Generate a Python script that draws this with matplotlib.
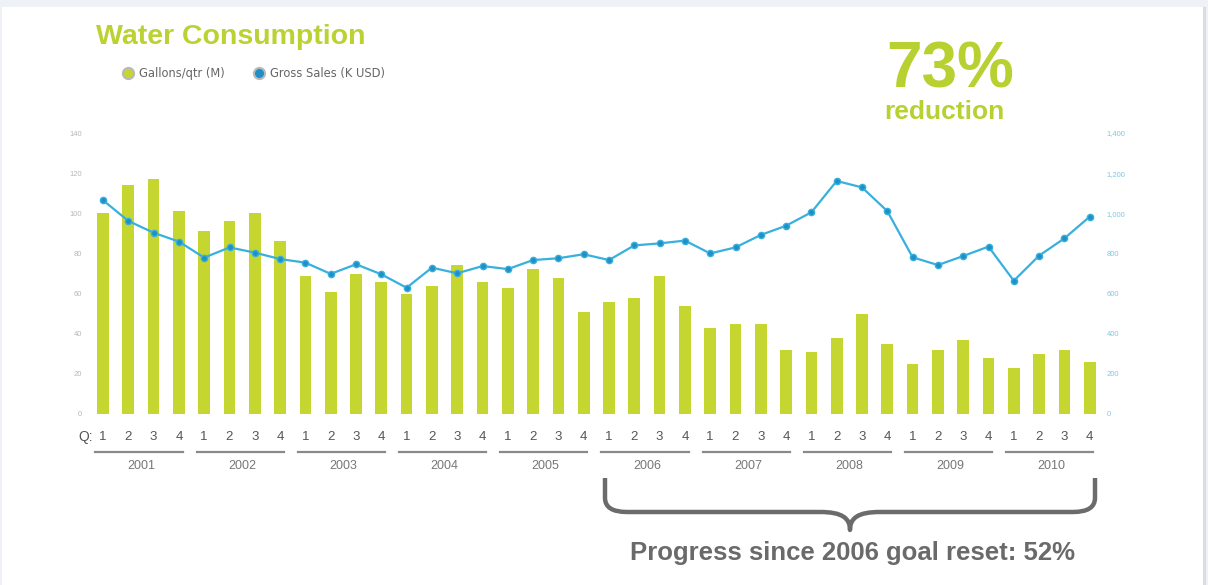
import numpy as np
import matplotlib.pyplot as plt
from matplotlib.patches import Rectangle, PathPatch
from matplotlib.path import Path
import matplotlib.transforms as mtransforms

# data, one value per quarter 2001 Q1 .. 2010 Q4
years = ['2001', '2002', '2003', '2004', '2005', '2006', '2007', '2008', '2009', '2010']
quarters = ['1', '2', '3', '4']
gallons = [100, 114, 117, 101,
           91, 96, 100, 86,
           69, 61, 70, 66,
           60, 64, 74, 66,
           63, 72, 68, 51,
           56, 58, 69, 54,
           43, 45, 45, 32,
           31, 38, 50, 35,
           25, 32, 37, 28,
           23, 30, 32, 26]
sales = [1065, 962, 903, 859,
         779, 830, 804, 772,
         754, 698, 746, 696,
         629, 729, 701, 737,
         722, 767, 776, 796,
         767, 840, 850, 864,
         800, 830, 892, 938,
         1005, 1161, 1129, 1011,
         781, 742, 787, 834,
         664, 789, 875, 983]
left_ticks = [0, 20, 40, 60, 80, 100, 120, 140]
right_ticks = [0, 200, 400, 600, 800, 1000, 1200, 1400]

GREEN = '#c5d631'
BLUE = '#38b0de'
DOT = '#1f8fc6'

W, H = 1208, 585
plt.rcParams['font.family'] = ['Liberation Sans', 'DejaVu Sans']

fig = plt.figure(figsize=(W / 100, H / 100), dpi=100, facecolor='#eef1f6')


def px(x, y):
    """pixel (from top-left) to figure fraction"""
    return x / W, 1 - y / H


# white card with a soft shadow on the right (kept behind the axes)
fig.patches.append(Rectangle(px(6, 585), 1200 / W, 578 / H, transform=fig.transFigure,
                             facecolor='#d9dce0', edgecolor='none', zorder=-10))
fig.patches.append(Rectangle(px(2, 585), 1201 / W, 578 / H, transform=fig.transFigure,
                             facecolor='white', edgecolor='none', zorder=-9))

x = np.arange(len(gallons))
x0, x1 = -0.6, 39.5
l, b = px(103 + x0 * 25.3, 414)
r, t = px(103 + x1 * 25.3, 133)
ax = fig.add_axes([l, b, r - l, t - b])
ax.set_facecolor('none')
ax.bar(x, gallons, width=0.46, color=GREEN, zorder=2)
ax.set_xlim(x0, x1)
ax.set_ylim(0, 140)
ax.set_yticks(left_ticks)
ax.set_yticklabels([str(v) for v in left_ticks])
ax.tick_params(axis='y', length=0, labelsize=5.5, labelcolor='#b8b8b8', pad=4)
ax.set_xticks(x)
ax.set_xticklabels(quarters * len(years))
ax.tick_params(axis='x', length=0, labelsize=9.5, labelcolor='#555555', pad=12)
for s in ax.spines.values():
    s.set_visible(False)

ax2 = ax.twinx()
ax2.plot(x, sales, color=BLUE, lw=1.6, marker='o', ms=4.5, mfc=DOT, mec=BLUE, mew=1, zorder=3)
ax2.set_ylim(0, 1400)
ax2.set_yticks(right_ticks)
ax2.set_yticklabels([f'{v:,}' for v in right_ticks])
ax2.tick_params(axis='y', length=0, labelsize=5.5, labelcolor='#7fc8e4', pad=3)
for s in ax2.spines.values():
    s.set_visible(False)

# "Q:" label and year groups below the quarters
fig.text(*px(86, 437), 'Q:', fontsize=10, color='#555555', ha='center', va='center')
trans = mtransforms.blended_transform_factory(ax.transData, fig.transFigure)
for i, yr in enumerate(years):
    xs = i * 4
    ax.plot([xs - 0.3, xs + 3.15], [px(0, 452)[1]] * 2, color='#8a8a8a', lw=1.6,
            transform=trans, clip_on=False)
    ax.text(xs + 1.5, px(0, 466)[1], yr, transform=trans, fontsize=9, color='#777777',
            ha='center', va='center')

# titles
fig.text(*px(96, 37), 'Water Consumption', fontsize=20.5, fontweight='bold',
         color='#bcd232', ha='left', va='center')
fig.text(*px(950, 70), '73%', fontsize=46, fontweight='bold', color='#b8d030',
         ha='center', va='center')
fig.text(*px(944, 112), 'reduction', fontsize=19, fontweight='bold', color='#b8d030',
         ha='center', va='center')

# legend
for cx, fc, label in [(128, GREEN, 'Gallons/qtr (M)'), (259, DOT, 'Gross Sales (K USD)')]:
    fig.lines.append(plt.Line2D([px(cx, 73)[0]], [px(cx, 73)[1]], transform=fig.transFigure,
                                marker='o', ms=8, mfc=fc, mec='#b9b9b9', mew=1.5, ls='none'))
    fig.text(*px(cx + 11, 73), label, fontsize=8.3, color='#666666', ha='left', va='center',
             family='DejaVu Sans')

# curly brace under 2006-2010
xl, xr, xm = 605, 1095, 850
yt, yh, yc = 478, 512, 530
verts = [(xl, yt), (xl, yh - 14), (xl, yh), (xl + 22, yh),
         (xm - 30, yh), (xm - 8, yh), (xm, yh + 6), (xm, yc),
         (xm, yh + 6), (xm + 8, yh), (xm + 30, yh),
         (xr - 22, yh), (xr, yh), (xr, yh - 14), (xr, yt)]
codes = [Path.MOVETO, Path.LINETO, Path.CURVE3, Path.CURVE3,
         Path.LINETO, Path.CURVE4, Path.CURVE4, Path.CURVE4,
         Path.CURVE4, Path.CURVE4, Path.CURVE4,
         Path.LINETO, Path.CURVE3, Path.CURVE3, Path.LINETO]
brace = Path([px(a, c) for a, c in verts], codes)
fig.patches.append(PathPatch(brace, transform=fig.transFigure, facecolor='none',
                             edgecolor='#6b6b6b', lw=3.2, capstyle='butt', joinstyle='round'))
fig.text(*px(852, 553), 'Progress since 2006 goal reset: 52%', fontsize=18.5,
         fontweight='bold', color='#6a6a6a', ha='center', va='center')

fig.savefig('out.png', dpi=100, facecolor=fig.get_facecolor())
